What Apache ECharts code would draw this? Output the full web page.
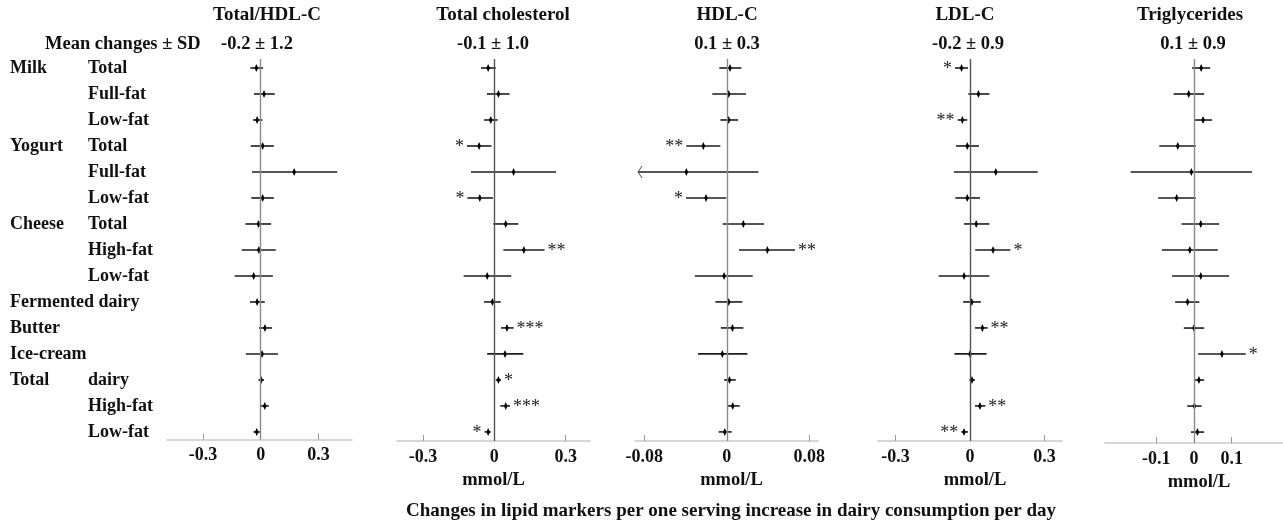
<!DOCTYPE html>
<html lang="en">
<head>
<meta charset="UTF-8">
<title>Dairy intake and lipid markers</title>
<script src="https://cdn.jsdelivr.net/npm/echarts@6/dist/echarts.min.js"></script>
<style>
    html, body { margin: 0; padding: 0; background: #fff; }
    #chart { width: 1283px; height: 525px; }
</style>
</head>
<body>
<div id="chart"></div>
<script>
    // row labels (two columns on the left)
    let groups = ['Milk', '', '', 'Yogurt', '', '', 'Cheese', '', '', 'Fermented dairy', 'Butter', 'Ice-cream', 'Total', '', ''];
    let items = ['Total', 'Full-fat', 'Low-fat', 'Total', 'Full-fat', 'Low-fat', 'Total', 'High-fat', 'Low-fat', '', '', '', 'dairy', 'High-fat', 'Low-fat'];

    let markers = ['Total/HDL-C', 'Total cholesterol', 'HDL-C', 'LDL-C', 'Triglycerides'];
    let meanSD = ['-0.2 ± 1.2', '-0.1 ± 1.0', '0.1 ± 0.3', '-0.2 ± 0.9', '0.1 ± 0.9'];
    let tickValues = [[-0.3, 0, 0.3], [-0.3, 0, 0.3], [-0.08, 0, 0.08], [-0.3, 0, 0.3], [-0.1, 0, 0.1]];
    let unitName = ['', 'mmol/L', 'mmol/L', 'mmol/L', 'mmol/L'];

    // Total/HDL-C
    let ratioEst = [-0.023, 0.017, -0.019, 0.010, 0.174, 0.010, -0.012, -0.010, -0.037, -0.019, 0.022, 0.007, 0.002, 0.021, -0.021];
    let ratioLo = [-0.054, -0.035, -0.040, -0.052, -0.045, -0.049, -0.080, -0.099, -0.136, -0.056, -0.009, -0.078, -0.012, -0.002, -0.038];
    let ratioHi = [0.012, 0.073, 0.009, 0.068, 0.398, 0.068, 0.054, 0.078, 0.063, 0.021, 0.059, 0.090, 0.017, 0.042, -0.002];
    let ratioStars = ['', '', '', '', '', '', '', '', '', '', '', '', '', '', ''];

    // Total cholesterol
    let tcEst = [-0.026, 0.017, -0.015, -0.064, 0.081, -0.061, 0.048, 0.124, -0.030, -0.008, 0.053, 0.045, 0.017, 0.048, -0.026];
    let tcLo = [-0.056, -0.031, -0.043, -0.115, -0.098, -0.113, -0.004, 0.038, -0.129, -0.043, 0.028, -0.030, 0.006, 0.025, -0.041];
    let tcHi = [0.006, 0.064, 0.014, -0.012, 0.259, -0.006, 0.101, 0.211, 0.071, 0.027, 0.081, 0.122, 0.028, 0.066, -0.015];
    let tcStars = ['', '', '', '*', '', '*', '', '**', '', '', '***', '', '*', '***', '*'];

    // HDL-C
    let hdlEst = [0.0032, 0.0019, 0.0019, -0.0227, -0.0392, -0.0201, 0.0161, 0.0394, -0.0026, 0.0019, 0.0055, -0.0043, 0.0026, 0.0058, -0.0019];
    let hdlLo = [-0.0072, -0.0140, -0.0062, -0.0392, -0.1150, -0.0395, -0.0039, 0.0119, -0.0310, -0.0110, -0.0058, -0.0278, -0.0026, 0.0003, -0.0078];
    let hdlHi = [0.0142, 0.0187, 0.0110, -0.0062, 0.0307, -0.0004, 0.0362, 0.0662, 0.0252, 0.0151, 0.0161, 0.0200, 0.0087, 0.0126, 0.0048];
    let hdlStars = ['', '', '', '**', '', '*', '', '**', '', '', '', '', '', '', ''];

    // LDL-C
    let ldlEst = [-0.034, 0.034, -0.031, -0.011, 0.104, -0.011, 0.025, 0.093, -0.024, 0.007, 0.050, 0.000, 0.008, 0.040, -0.024];
    let ldlLo = [-0.060, -0.007, -0.050, -0.056, -0.065, -0.059, -0.024, 0.021, -0.126, -0.028, 0.020, -0.063, -0.003, 0.020, -0.035];
    let ldlHi = [-0.008, 0.078, -0.011, 0.036, 0.273, 0.040, 0.078, 0.163, 0.078, 0.044, 0.071, 0.067, 0.020, 0.062, -0.008];
    let ldlStars = ['*', '', '**', '', '', '', '', '*', '', '', '**', '', '', '**', '**'];

    // Triglycerides
    let tgEst = [0.019, -0.014, 0.024, -0.043, -0.007, -0.046, 0.018, -0.011, 0.018, -0.017, 0.000, 0.074, 0.013, 0.001, 0.009];
    let tgLo = [-0.005, -0.054, 0.000, -0.092, -0.168, -0.095, -0.033, -0.085, -0.058, -0.050, -0.027, 0.011, 0.002, -0.018, -0.008];
    let tgHi = [0.043, 0.027, 0.048, 0.005, 0.154, 0.005, 0.067, 0.063, 0.093, 0.014, 0.027, 0.137, 0.027, 0.020, 0.027];
    let tgStars = ['', '', '', '', '', '', '', '', '', '', '', '*', '', '', ''];

    let panelData = [
        [ratioEst, ratioLo, ratioHi, ratioStars],
        [tcEst, tcLo, tcHi, tcStars],
        [hdlEst, hdlLo, hdlHi, hdlStars],
        [ldlEst, ldlLo, ldlHi, ldlStars],
        [tgEst, tgLo, tgHi, tgStars]
    ];

    // layout of the five panels
    let layout = [
        {left: 167, width: 185, min: -0.488, max: 0.475, height: 380.5, yMax: 14.29, title: 267, mean: 257, zero: '#8a8a8a'},
        {left: 397, width: 193, min: -0.409, max: 0.402, height: 382, yMax: 14.35, title: 503, mean: 493, zero: '#555'},
        {left: 635, width: 183, min: -0.089, max: 0.0885, height: 382, yMax: 14.35, title: 727, mean: 727, zero: '#8a8a8a'},
        {left: 878, width: 184, min: -0.371, max: 0.371, height: 382, yMax: 14.35, title: 965, mean: 968, zero: '#555'},
        {left: 1105, width: 178, min: -0.236, max: 0.236, height: 384, yMax: 14.42, title: 1190, mean: 1193, zero: '#8a8a8a'}
    ];

    const FONT = '"Liberation Serif", "Times New Roman", serif';
    const rowIdx = groups.map((g, i) => i);

    function renderCI(params, api) {
        let est = api.value(0), row = api.value(1), lo = api.value(2), hi = api.value(3);
        let star = api.value(4);
        let cs = params.coordSys;
        let p = api.coord([est, row]);
        let x1 = api.coord([lo, row])[0];
        let x2 = api.coord([hi, row])[0];
        let y = p[1];
        let arrow = false;
        if (x1 < cs.x) { x1 = cs.x + 3; arrow = true; }
        let children = [
            {type: 'line', shape: {x1: x1, y1: y, x2: x2, y2: y}, style: {stroke: '#1c1c1c', lineWidth: 1.6}},
            {type: 'polygon', shape: {points: [[p[0], y - 4], [p[0] + 1.8, y], [p[0], y + 4], [p[0] - 1.8, y]]}, style: {fill: '#000'}}
        ];
        if (arrow) {
            children.push({type: 'polyline', shape: {points: [[x1 + 4, y - 6], [x1, y], [x1 + 4, y + 6]]},
                style: {stroke: '#444', lineWidth: 1, fill: null}});
        }
        if (star) {
            let left = est < 0;
            children.push({type: 'text', x: left ? x1 - 3 : x2 + 3, y: y + 1,
                style: {text: star, align: left ? 'right' : 'left', verticalAlign: 'middle',
                    font: '18px ' + FONT, fill: '#222'}});
        }
        return {type: 'group', children: children};
    }

    let grids = [], xAxes = [], yAxes = [], series = [], titles = [];

    layout.forEach(function (L, k) {
        grids.push({left: L.left, top: 59, width: L.width, height: L.height});
        xAxes.push({
            type: 'value', gridIndex: k, min: L.min, max: L.max,
            axisLine: {show: true, onZero: false, lineStyle: {color: '#c9c9c9', width: 1.5}},
            axisTick: {show: true, inside: true, length: 6, customValues: tickValues[k], lineStyle: {color: '#999', width: 1}},
            axisLabel: {customValues: tickValues[k], margin: 7, color: '#111', fontFamily: FONT, fontWeight: 'bold', fontSize: 18,
                formatter: v => String(v)},
            splitLine: {show: false},
            name: unitName[k], nameLocation: 'middle', nameGap: 30,
            nameTextStyle: {color: '#111', fontFamily: FONT, fontWeight: 'bold', fontSize: 18.5,
                padding: k >= 2 ? [0, 0, 0, 10] : 0}
        });
        yAxes.push({
            type: 'value', gridIndex: k, inverse: true, min: -0.346, max: L.yMax,
            axisLine: {show: false}, axisTick: {show: false}, splitLine: {show: false},
            axisLabel: k === 0 ? {
                customValues: rowIdx, align: 'left', margin: 79, color: '#111',
                fontFamily: FONT, fontWeight: 'bold', fontSize: 18, formatter: v => items[v] || ''
            } : {show: false}
        });

        let d = panelData[k];
        series.push({
            type: 'custom', xAxisIndex: k, yAxisIndex: k, renderItem: renderCI,
            encode: {x: [0, 2, 3], y: 1},
            data: d[0].map((e, i) => [e, i, d[1][i], d[2][i], d[3][i]]),
            markLine: {
                silent: true, symbol: 'none', label: {show: false},
                lineStyle: {color: L.zero, width: 1.4, type: 'solid'},
                data: [{xAxis: 0}]
            },
            z: 3
        });

        titles.push({text: markers[k], left: L.title, top: 6, textAlign: 'center', padding: 0,
            textStyle: {fontFamily: FONT, fontWeight: 'bold', fontSize: 19, color: '#111'}});
        titles.push({text: meanSD[k], left: L.mean, top: 35, textAlign: 'center', padding: 0,
            textStyle: {fontFamily: FONT, fontWeight: 'bold', fontSize: 18.5, color: '#111'}});
    });

    // second label column (food groups) on the first panel
    yAxes.push({
        type: 'value', gridIndex: 0, inverse: true, min: -0.346, max: layout[0].yMax, position: 'left',
        axisLine: {show: false}, axisTick: {show: false}, splitLine: {show: false},
        axisLabel: {customValues: rowIdx, align: 'left', margin: 157, color: '#111',
            fontFamily: FONT, fontWeight: 'bold', fontSize: 18, formatter: v => groups[v] || ''}
    });

    titles.push({text: 'Mean changes ± SD', left: 45, top: 35, padding: 0,
        textStyle: {fontFamily: FONT, fontWeight: 'bold', fontSize: 18.5, color: '#111'}});
    titles.push({text: 'Changes in lipid markers per one serving increase in dairy consumption per day',
        left: 731, top: 502, textAlign: 'center', padding: 0,
        textStyle: {fontFamily: FONT, fontWeight: 'bold', fontSize: 19, color: '#111'}});

    let chart = echarts.init(document.getElementById('chart'));
    chart.setOption({
        animation: false,
        backgroundColor: '#fff',
        title: titles,
        grid: grids,
        xAxis: xAxes,
        yAxis: yAxes,
        series: series
    });
</script>
</body>
</html>
